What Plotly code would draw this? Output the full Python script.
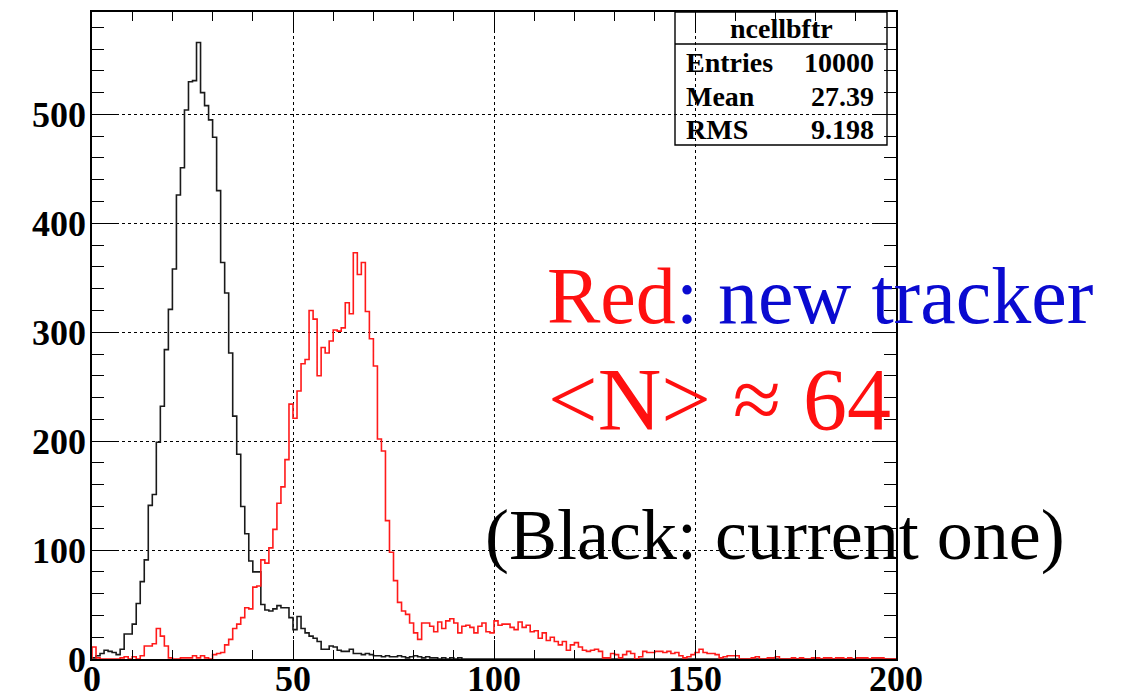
import numpy as np
import plotly.graph_objects as go

# ncellbftr: number of cells per event, 200 bins of width 1 on [0, 200)
bin_lo, bin_hi = 0, 200

# current tracker (black)
counts_current = [
    1, 3, 5, 8, 7, 6, 4, 9, 23, 23,
    32, 51, 71, 91, 141, 151, 199, 232, 284, 321,
    358, 426, 451, 504, 530, 531, 566, 520, 508, 495,
    479, 430, 364, 336, 281, 223, 188, 140, 115, 90,
    80, 80, 50, 45, 44, 46, 49, 47, 47, 38,
    27, 39, 28, 24, 21, 19, 16, 9, 9, 12,
    11, 8, 7, 7, 9, 5, 5, 4, 5, 4,
    3, 3, 2, 3, 2, 2, 3, 2, 1, 2,
    3, 2, 1, 2, 1, 1, 0, 1, 0, 1,
    0, 1, 0, 0, 0, 0, 0, 0, 0, 0,
] + [0] * 100

# new tracker (red)
counts_new = [
    11, 1, 0, 0, 0, 0, 0, 1, 2, 0,
    2, 0, 3, 12, 12, 14, 28, 21, 12, 1,
    0, 0, 1, 1, 1, 3, 1, 3, 1, 0,
    4, 5, 6, 13, 18, 28, 32, 38, 47, 46,
    66, 67, 91, 88, 102, 119, 143, 158, 183, 234,
    221, 246, 271, 275, 320, 312, 260, 286, 281, 292,
    302, 301, 304, 327, 317, 373, 353, 364, 319, 294,
    269, 202, 191, 127, 98, 72, 52, 44, 41, 33,
    24, 18, 33, 33, 30, 25, 34, 28, 35, 37,
    33, 24, 30, 31, 29, 24, 30, 33, 25, 24,
    35, 31, 32, 32, 29, 27, 34, 29, 31, 25,
    26, 19, 24, 17, 20, 16, 13, 16, 8, 13,
    15, 11, 8, 7, 8, 9, 7, 1, 1, 5,
    4, 1, 4, 7, 5, 0, 2, 7, 6, 6,
    7, 7, 6, 7, 5, 6, 3, 1, 2, 4,
    6, 9, 6, 5, 5, 4, 1, 2, 3, 3,
    3, 0, 0, 0, 1, 2, 0, 0, 1, 1,
    2, 0, 0, 0, 1, 0, 1, 0, 0, 1,
    1, 0, 1, 1, 0, 1, 1, 0, 1, 0,
    1, 1, 1, 0, 1, 1, 1, 0, 0, 0,
]

stats_title = "ncellbftr"
stats_rows = [("Entries", "10000"), ("Mean", "27.39"), ("RMS", "9.198")]

x_ticks = [0, 50, 100, 150, 200]
y_ticks = [0, 100, 200, 300, 400, 500]
y_max = 594


def step_outline(counts):
    """Histogram outline: vertical edge at both ends, flat top per bin."""
    edges = np.arange(bin_lo, bin_hi + 1)
    xs = [edges[0]] + list(edges[:-1]) + [edges[-1]]
    ys = [0] + list(counts) + [0]
    return xs, ys


SERIF = "Liberation Serif"

fig = go.Figure()
for counts, color in ((counts_current, "#1a1a1a"), (counts_new, "#ff1a1a")):
    xs, ys = step_outline(counts)
    fig.add_trace(go.Scatter(
        x=xs, y=ys, mode="lines", line=dict(shape="hv", color=color, width=1.6),
        hoverinfo="skip", showlegend=False, cliponaxis=False,
    ))

axis_common = dict(
    showline=True, linecolor="black", linewidth=1.6, mirror="ticks",
    ticks="inside", tickcolor="black", tickwidth=1.4,
    showgrid=True, gridcolor="black", gridwidth=1, griddash="dot",
    zeroline=False, automargin=False,
    tickfont=dict(family=SERIF, size=36, color="black", weight="bold"),
)

fig.update_xaxes(
    range=[bin_lo, bin_hi], tickvals=x_ticks, ticklen=19,
    minor=dict(dtick=10, ticklen=9, ticks="inside", tickcolor="black",
               tickwidth=1.2, showgrid=False),
    ticklabelstandoff=-13,
    **axis_common,
)
fig.update_yaxes(
    range=[0, y_max], tickvals=y_ticks, ticklen=24,
    minor=dict(dtick=20, ticklen=12, ticks="inside", tickcolor="black",
               tickwidth=1.2, showgrid=False),
    ticklabelstandoff=-3,
    **axis_common,
)

# plot frame in pixels
L, R, T, B = 92, 896, 12, 659
W, H = 1123, 698


def px_x(px):
    return (px - L) / (R - L)


def px_y(py):
    return (B - py) / (B - T)


# statistics box
box_l, box_r, box_t, box_b, box_sep = 675, 887, 12, 145, 44
fig.add_shape(type="rect", xref="paper", yref="paper",
              x0=px_x(box_l), x1=px_x(box_r), y0=px_y(box_b), y1=px_y(box_t),
              line=dict(color="black", width=1.4), fillcolor="rgba(0,0,0,0)")
fig.add_shape(type="line", xref="paper", yref="paper",
              x0=px_x(box_l), x1=px_x(box_r), y0=px_y(box_sep), y1=px_y(box_sep),
              line=dict(color="black", width=1.4))

stat_font = dict(family=SERIF, size=28, color="black", weight="bold")
fig.add_annotation(text=stats_title, xref="paper", yref="paper",
                   x=px_x((box_l + box_r) / 2), y=px_y(28),
                   xanchor="center", yanchor="middle", showarrow=False, font=stat_font)
for (label, value), py in zip(stats_rows, (63, 96, 129)):
    fig.add_annotation(text=label, xref="paper", yref="paper",
                       x=px_x(684), y=px_y(py), xanchor="left", yanchor="middle",
                       showarrow=False, font=stat_font)
    fig.add_annotation(text=value, xref="paper", yref="paper",
                       x=px_x(876), y=px_y(py), xanchor="right", yanchor="middle",
                       showarrow=False, font=stat_font)

# slide captions
fig.add_annotation(
    text="<span style='color:#ff1010'>Red</span><span style='color:#0a0ad0'>: new tracker</span>",
    xref="paper", yref="paper", x=px_x(545), y=px_y(296),
    xanchor="left", yanchor="middle", showarrow=False,
    font=dict(family=SERIF, size=80),
)
fig.add_annotation(
    text="&lt;N&gt; ≈ 64", xref="paper", yref="paper", x=px_x(546), y=px_y(400),
    xanchor="left", yanchor="middle", showarrow=False,
    font=dict(family=SERIF, size=88, color="#ff1010"),
)
fig.add_annotation(
    text="(Black: current one)", xref="paper", yref="paper", x=px_x(483), y=px_y(535),
    xanchor="left", yanchor="middle", showarrow=False,
    font=dict(family=SERIF, size=72, color="black"),
)

fig.update_layout(
    width=W, height=H,
    margin=dict(l=L, r=W - R, t=T, b=H - B, pad=0, autoexpand=False),
    paper_bgcolor="white", plot_bgcolor="white",
    showlegend=False,
)

fig.write_html("out.html")
